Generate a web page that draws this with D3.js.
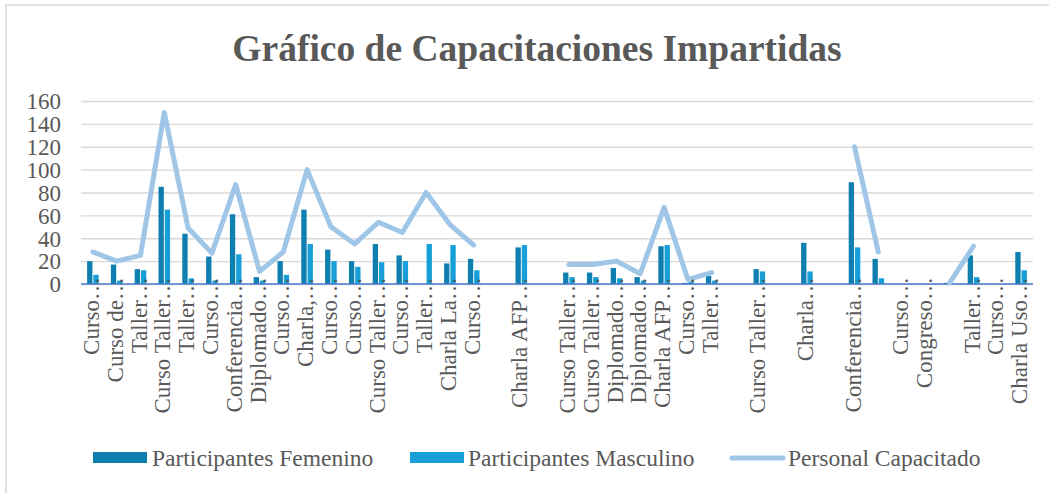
<!DOCTYPE html>
<html>
<head>
<meta charset="utf-8">
<script src="https://cdn.jsdelivr.net/npm/d3@7.9.0/dist/d3.min.js"></script>
<style>
  body { margin: 0; background: #fff; }
  text { font-family: "Liberation Serif", "Times New Roman", serif; fill: #595959; }
</style>
</head>
<body>
<svg id="chart" width="1049" height="493"></svg>
<script>
// Chart data
const categories = [
  "Curso…", "Curso de…", "Taller…", "Curso Taller…", "Taller…", "Curso…", "Conferencia…", "Diplomado…",
  "Curso…", "Charla,…", "Curso…", "Curso…", "Curso Taller…", "Curso…", "Taller…", "Charla La…",
  "Curso…", "", "Charla AFP…", "", "Curso Taller…", "Curso Taller…", "Diplomado…", "Diplomado…",
  "Charla AFP…", "Curso…", "Taller…", "", "Curso Taller…", "", "Charla…", "",
  "Conferencia…", "", "Curso…", "Congreso…", "", "Taller…", "Curso…", "Charla Uso…"
];
const femenino = [20, 17, 13, 85, 44, 24, 61, 6, 20, 65, 30, 20, 35, 25, 0, 18, 22, 0, 32, 0,
  10, 10, 14, 6, 33, 1, 7, 0, 13, 0, 36, 0, 89, 22, 0, 0, 1, 25, 0, 28];
const masculino = [8, 3, 12, 65, 5, 3, 26, 3, 8, 35, 20, 15, 19, 20, 35, 34, 12, 0, 34, 0,
  6, 6, 5, 3, 34, 2, 3, 0, 11, 0, 11, 0, 32, 5, 0, 0, 0, 6, 0, 12];
const capacitado = [28, 20, 25, 150, 49, 27, 87, 11, 28, 100, 50, 35, 54, 45, 80, 52, 34, null, null, null,
  17, 17, 20, 9, 67, 4, 10, null, null, null, null, null, 120, 28, null, null, 1, 33, null, null];
const yTicks = [0, 20, 40, 60, 80, 100, 120, 140, 160];
const seriesNames = ["Participantes Femenino", "Participantes Masculino", "Personal Capacitado"];

const colFem = "#0f7fb0";
const colMasc = "#169fd8";
const colLine = "#9fc6e7";
const serif = "'Liberation Serif', 'Times New Roman', serif";

const svg = d3.select("#chart");

// chart border
svg.append("rect")
  .attr("x", 6).attr("y", 5)
  .attr("width", 1100).attr("height", 600)
  .attr("fill", "none")
  .attr("stroke", "#d9d9d9")
  .attr("stroke-width", 1.5);

// title
svg.append("text")
  .attr("x", 537).attr("y", 61)
  .attr("text-anchor", "middle")
  .attr("font-size", 37.5)
  .attr("font-weight", "bold")
  .text("Gráfico de Capacitaciones Impartidas");

// scales
let x = d3.scaleBand().domain(d3.range(categories.length)).range([81, 1033]);
let xSub = d3.scaleBand().domain([0, 1]).range([-5.8, 5.8]).paddingInner(0.15);
let y = d3.scaleLinear().domain([0, 160]).range([284, 101]);
let cx = i => x(i) + x.bandwidth() / 2;

// gridlines + y labels
let yAxis = svg.append("g")
  .attr("transform", "translate(81,0)")
  .call(d3.axisLeft(y).tickValues(yTicks).tickSize(-952).tickPadding(20));
yAxis.select(".domain").remove();
yAxis.selectAll(".tick line").attr("stroke", "#d9d9d9").attr("stroke-width", 1.3);
yAxis.selectAll(".tick text")
  .style("font-family", serif)
  .style("font-size", "23px")
  .style("fill", "#595959")
  .attr("dy", "0.34em");

// bars
const barData = [femenino, masculino];
const barColors = [colFem, colMasc];
barData.forEach((vals, s) => {
  svg.append("g").selectAll("rect")
    .data(vals)
    .enter()
    .append("rect")
    .attr("x", (d, i) => cx(i) + xSub(s))
    .attr("y", d => y(d))
    .attr("width", xSub.bandwidth())
    .attr("height", d => y(0) - y(d))
    .attr("fill", barColors[s]);
});

// x axis line
svg.append("line")
  .attr("x1", 81).attr("x2", 1033)
  .attr("y1", y(0)).attr("y2", y(0))
  .attr("stroke", "#4a7acb")
  .attr("stroke-width", 1.5);

// line series (gaps where no value)
let lineGen = d3.line()
  .defined(d => d != null)
  .x((d, i) => cx(i))
  .y(d => y(d));

svg.append("path")
  .datum(capacitado)
  .attr("d", lineGen)
  .attr("fill", "none")
  .attr("stroke", colLine)
  .attr("stroke-width", 5)
  .attr("stroke-linejoin", "round")
  .attr("stroke-linecap", "round");

// category labels, rotated
svg.append("g").selectAll("text")
  .data(categories)
  .enter()
  .append("text")
  .attr("transform", (d, i) => `translate(${cx(i) + 6},277) rotate(-90)`)
  .attr("text-anchor", "end")
  .attr("font-size", 23)
  .text(d => d);

// legend
let legend = svg.append("g");
legend.append("rect").attr("x", 93).attr("y", 452).attr("width", 54).attr("height", 11).attr("fill", colFem);
legend.append("text").attr("x", 152).attr("y", 466).attr("font-size", 23.5).text(seriesNames[0]);
legend.append("rect").attr("x", 410).attr("y", 452).attr("width", 54).attr("height", 11).attr("fill", colMasc);
legend.append("text").attr("x", 468).attr("y", 466).attr("font-size", 23.5).text(seriesNames[1]);
legend.append("line").attr("x1", 732).attr("x2", 783).attr("y1", 458).attr("y2", 458)
  .attr("stroke", colLine).attr("stroke-width", 5).attr("stroke-linecap", "round");
legend.append("text").attr("x", 788).attr("y", 466).attr("font-size", 23.5).text(seriesNames[2]);
</script>
</body>
</html>
